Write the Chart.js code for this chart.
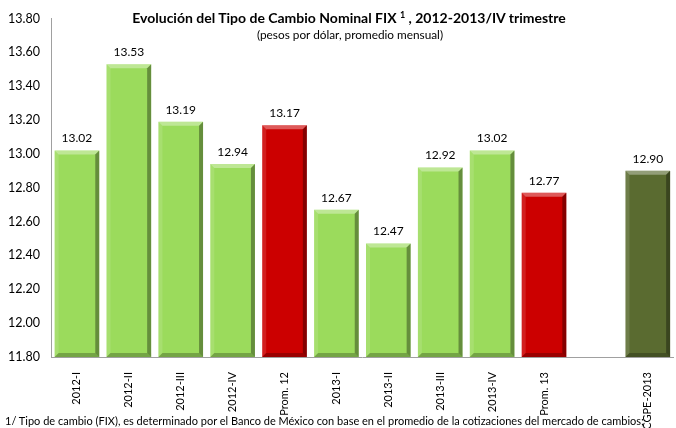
<!DOCTYPE html>
<html>
<head>
<meta charset="utf-8">
<script src="https://cdn.jsdelivr.net/npm/chart.js@4"></script>
<style>
  body { margin: 0; background: #fff; font-family: Lato, sans-serif; }
  #wrap { position: relative; width: 676px; height: 428px; }
  #title { position: absolute; left: 0; width: 698px; top: 9px; text-align: center; font-weight: bold; font-size: 14px; color: #000; }
  #title sup { font-size: 9px; vertical-align: 5px; line-height: 0; }
  #subtitle { position: absolute; left: 0; width: 700px; top: 27px; text-align: center; font-size: 11.8px; color: #000; }
  #note { position: absolute; left: 5px; top: 414px; font-size: 11px; color: #000; white-space: nowrap; }
</style>
</head>
<body>
<div id="wrap">
  <canvas id="chart" width="676" height="428"></canvas>
  <div id="title">Evolución del Tipo de Cambio Nominal FIX <sup>1</sup> , 2012-2013/IV trimestre</div>
  <div id="subtitle">(pesos por dólar, promedio mensual)</div>
  <div id="note">1/ Tipo de cambio (FIX), es determinado por el Banco de México con base en el promedio de la cotizaciones del mercado de cambios;</div>
</div>
<script>
const categories = ["2012-I", "2012-II", "2012-III", "2012-IV", "Prom. 12", "2013-I", "2013-II", "2013-III", "2013-IV", "Prom. 13", "", "CGPE-2013"];
const values = [13.02, 13.53, 13.19, 12.94, 13.17, 12.67, 12.47, 12.92, 13.02, 12.77, null, 12.90];
const barColors = ["#9BDB5C", "#9BDB5C", "#9BDB5C", "#9BDB5C", "#CC0000", "#9BDB5C", "#9BDB5C", "#9BDB5C", "#9BDB5C", "#CC0000", "#9BDB5C", "#5A6B30"];

// bevel look on each bar
const bevelPlugin = {
    id: "bevel",
    afterDatasetsDraw(chart) {
        const ctx = chart.ctx;
        const area = chart.chartArea;
        chart.getDatasetMeta(0).data.forEach((bar, i) => {
            if (values[i] === null) return;
            const w = bar.width;
            const l = bar.x - w / 2, r = bar.x + w / 2, t = bar.y;
            const b = Math.min(bar.base, area.bottom);
            const s = 4;
            const poly = (pts, color) => {
                ctx.beginPath();
                ctx.moveTo(pts[0][0], pts[0][1]);
                pts.slice(1).forEach(p => ctx.lineTo(p[0], p[1]));
                ctx.closePath();
                ctx.fillStyle = color;
                ctx.fill();
            };
            ctx.save();
            poly([[l, t], [r, t], [r - s, t + s], [l + s, t + s]], "rgba(255,255,255,0.35)");
            poly([[l, t], [l + s, t + s], [l + s, b - s], [l, b]], "rgba(255,255,255,0.12)");
            poly([[r, t], [r, b], [r - s, b - s], [r - s, t + s]], "rgba(0,0,0,0.35)");
            poly([[l, b], [r, b], [r - s, b - s], [l + s, b - s]], "rgba(0,0,0,0.25)");
            ctx.restore();
        });
    }
};

const valueLabels = {
    id: "valueLabels",
    afterDatasetsDraw(chart) {
        const ctx = chart.ctx;
        ctx.save();
        ctx.font = "12px Lato";
        ctx.fillStyle = "#000";
        ctx.textAlign = "center";
        ctx.textBaseline = "bottom";
        chart.getDatasetMeta(0).data.forEach((bar, i) => {
            if (values[i] === null) return;
            ctx.fillText(values[i].toFixed(2), bar.x, bar.y - 6);
        });
        ctx.restore();
    }
};

new Chart(document.getElementById("chart"), {
    type: "bar",
    data: {
        labels: categories,
        datasets: [{
            data: values,
            backgroundColor: barColors,
            borderWidth: 0,
            categoryPercentage: 0.86,
            barPercentage: 1
        }]
    },
    options: {
        responsive: false,
        animation: false,
        layout: { padding: { top: 17, right: 0, left: 0, bottom: 0 } },
        plugins: {
            legend: { display: false },
            tooltip: { enabled: false }
        },
        scales: {
            x: {
                grid: { display: false, drawTicks: false },
                border: { color: "#A0A0A0", width: 1 },
                ticks: {
                    color: "#000",
                    font: { family: "Lato", size: 11 },
                    minRotation: 90,
                    maxRotation: 90,
                    padding: 15,
                    autoSkip: false
                },
                afterFit(scale) { scale.height = 71; }
            },
            y: {
                min: 11.8,
                max: 13.8,
                grid: { display: false, drawTicks: false },
                border: { color: "#A0A0A0", width: 1 },
                ticks: {
                    stepSize: 0.2,
                    color: "#000",
                    font: { family: "Lato", size: 12.5 },
                    padding: 11,
                    callback: v => v.toFixed(2)
                },
                afterFit(scale) { scale.width = 51; }
            }
        }
    },
    plugins: [bevelPlugin, valueLabels]
});
</script>
</body>
</html>
